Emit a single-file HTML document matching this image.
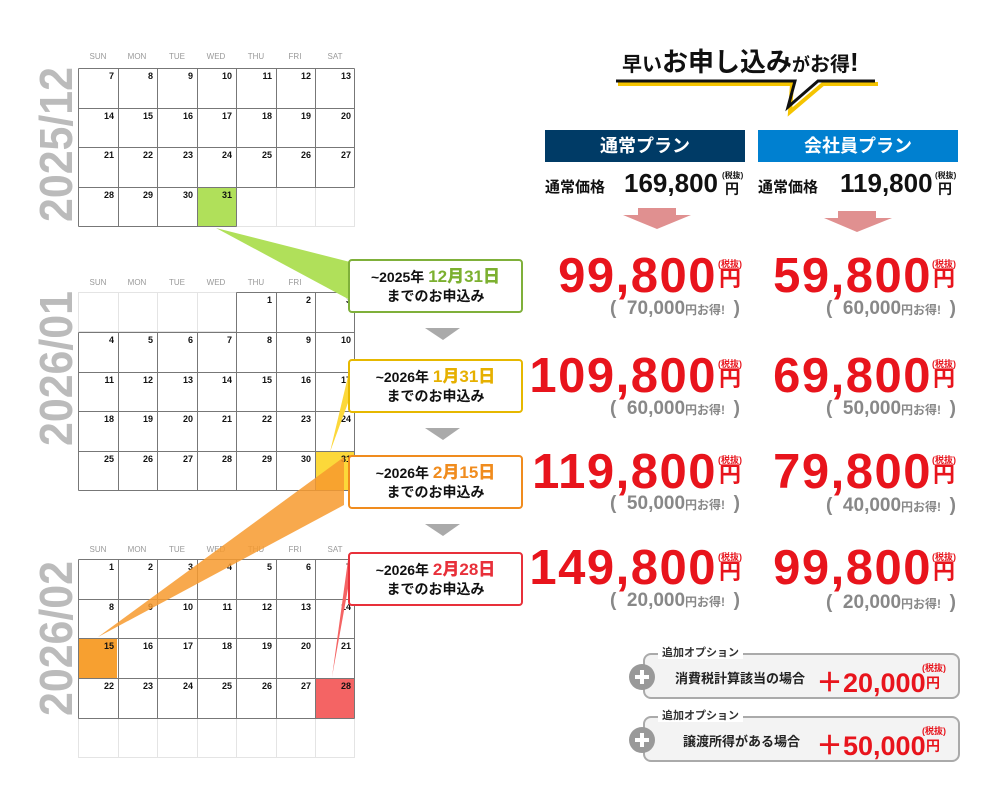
<!DOCTYPE html>
<html><head><meta charset="utf-8"><style>
*{margin:0;padding:0;box-sizing:border-box}
body{width:1000px;height:806px;background:#fff;position:relative;overflow:hidden;font-family:"Liberation Sans","Noto Sans CJK JP",sans-serif;font-weight:bold}
.a{position:absolute;white-space:nowrap}
.box{position:absolute;left:348px;width:175px;height:54px;border:2px solid;border-radius:4px;background:#fff;text-align:center;font-size:14px;line-height:19px;padding-top:6px;color:#111}
.box b{font-size:17px}
.big{position:absolute;color:#e8141c;font-size:49px;letter-spacing:1.5px;text-align:right;line-height:50px}
.yen{position:absolute;color:#e8141c;font-size:22px;line-height:22px}
.tx{position:absolute;color:#e8141c;font-size:9px}
.sv{position:absolute;color:#888;font-size:19px;text-align:right}
.sv small{font-size:12px}
.opt{position:absolute;left:643px;width:317px;height:46px;border:2px solid #aaa;border-radius:8px;background:#f3f3f3}
.ol{position:absolute;left:658px;background:#fff;font-size:11px;color:#333;padding:0 4px;line-height:12px}
</style></head><body>
<svg class="a" style="left:0;top:0" width="1000" height="806">
<g fill="#bbb" font-size="46" font-weight="bold" font-family="Liberation Sans Narrow,Liberation Sans,sans-serif">
<text transform="translate(72,222) rotate(-90)" textLength="155" lengthAdjust="spacingAndGlyphs">2025/12</text>
<text transform="translate(72,446) rotate(-90)" textLength="155" lengthAdjust="spacingAndGlyphs">2026/01</text>
<text transform="translate(72,716) rotate(-90)" textLength="155" lengthAdjust="spacingAndGlyphs">2026/02</text>
</g>
<g fill="#999" font-size="8" font-family="Liberation Sans,sans-serif" text-anchor="middle" font-weight="normal">
<text x="98" y="59">SUN</text><text x="137" y="59">MON</text><text x="177" y="59">TUE</text><text x="216" y="59">WED</text><text x="256" y="59">THU</text><text x="295" y="59">FRI</text><text x="335" y="59">SAT</text>
<text x="98" y="285">SUN</text><text x="137" y="285">MON</text><text x="177" y="285">TUE</text><text x="216" y="285">WED</text><text x="256" y="285">THU</text><text x="295" y="285">FRI</text><text x="335" y="285">SAT</text>
<text x="98" y="552">SUN</text><text x="137" y="552">MON</text><text x="177" y="552">TUE</text><text x="216" y="552">WED</text><text x="256" y="552">THU</text><text x="295" y="552">FRI</text><text x="335" y="552">SAT</text>
</g>
<rect x="197" y="187" width="39" height="40" fill="#b0e05a"/>
<rect x="315" y="451" width="40" height="39" fill="#fcd83a"/>
<rect x="78" y="638" width="39" height="40" fill="#f7a030"/>
<rect x="315" y="678" width="40" height="40" fill="#f46464"/>
<g stroke="#e4e4e4" fill="none" stroke-width="1">
<rect x="236.5" y="187.5" width="118" height="39"/><line x1="276.5" y1="187" x2="276.5" y2="227"/><line x1="315.5" y1="187" x2="315.5" y2="227"/>
<rect x="78.5" y="292.5" width="158" height="39"/><line x1="118.5" y1="292" x2="118.5" y2="332"/><line x1="157.5" y1="292" x2="157.5" y2="332"/><line x1="197.5" y1="292" x2="197.5" y2="332"/>
<rect x="78.5" y="718.5" width="276" height="39"/><line x1="118.5" y1="718" x2="118.5" y2="757"/><line x1="157.5" y1="718" x2="157.5" y2="757"/><line x1="197.5" y1="718" x2="197.5" y2="757"/><line x1="236.5" y1="718" x2="236.5" y2="757"/><line x1="276.5" y1="718" x2="276.5" y2="757"/><line x1="315.5" y1="718" x2="315.5" y2="757"/>
</g>
<g stroke="#777" fill="none" stroke-width="1">
<path d="M78.5 68.5H354.5M78.5 108.5H354.5M78.5 147.5H354.5M78.5 187.5H354.5M78.5 226.5H236.5M78.5 68.5V226.5M118.5 68.5V226.5M157.5 68.5V226.5M197.5 68.5V226.5M236.5 68.5V226.5M276.5 68.5V187.5M315.5 68.5V187.5M354.5 68.5V187.5"/>
<path d="M236.5 292.5H354.5M78.5 332.5H354.5M78.5 372.5H354.5M78.5 411.5H354.5M78.5 451.5H354.5M78.5 490.5H354.5M78.5 332.5V490.5M118.5 332.5V490.5M157.5 332.5V490.5M197.5 332.5V490.5M236.5 292.5V490.5M276.5 292.5V490.5M315.5 292.5V490.5M354.5 292.5V490.5"/>
<path d="M78.5 559.5H354.5M78.5 599.5H354.5M78.5 638.5H354.5M78.5 678.5H354.5M78.5 718.5H354.5M78.5 559.5V718.5M118.5 559.5V718.5M157.5 559.5V718.5M197.5 559.5V718.5M236.5 559.5V718.5M276.5 559.5V718.5M315.5 559.5V718.5M354.5 559.5V718.5"/>
</g>
<g font-size="9" font-weight="bold" fill="#111" text-anchor="end" font-family="Liberation Sans,sans-serif">
<text x="114" y="79">7</text><text x="153" y="79">8</text><text x="193" y="79">9</text><text x="232" y="79">10</text><text x="272" y="79">11</text><text x="311" y="79">12</text><text x="351" y="79">13</text>
<text x="114" y="119">14</text><text x="153" y="119">15</text><text x="193" y="119">16</text><text x="232" y="119">17</text><text x="272" y="119">18</text><text x="311" y="119">19</text><text x="351" y="119">20</text>
<text x="114" y="158">21</text><text x="153" y="158">22</text><text x="193" y="158">23</text><text x="232" y="158">24</text><text x="272" y="158">25</text><text x="311" y="158">26</text><text x="351" y="158">27</text>
<text x="114" y="198">28</text><text x="153" y="198">29</text><text x="193" y="198">30</text><text x="232" y="198">31</text>
<text x="272" y="303">1</text><text x="311" y="303">2</text><text x="351" y="303">3</text>
<text x="114" y="343">4</text><text x="153" y="343">5</text><text x="193" y="343">6</text><text x="232" y="343">7</text><text x="272" y="343">8</text><text x="311" y="343">9</text><text x="351" y="343">10</text>
<text x="114" y="383">11</text><text x="153" y="383">12</text><text x="193" y="383">13</text><text x="232" y="383">14</text><text x="272" y="383">15</text><text x="311" y="383">16</text><text x="351" y="383">17</text>
<text x="114" y="422">18</text><text x="153" y="422">19</text><text x="193" y="422">20</text><text x="232" y="422">21</text><text x="272" y="422">22</text><text x="311" y="422">23</text><text x="351" y="422">24</text>
<text x="114" y="462">25</text><text x="153" y="462">26</text><text x="193" y="462">27</text><text x="232" y="462">28</text><text x="272" y="462">29</text><text x="311" y="462">30</text><text x="351" y="462">31</text>
<text x="114" y="570">1</text><text x="153" y="570">2</text><text x="193" y="570">3</text><text x="232" y="570">4</text><text x="272" y="570">5</text><text x="311" y="570">6</text><text x="351" y="570">7</text>
<text x="114" y="610">8</text><text x="153" y="610">9</text><text x="193" y="610">10</text><text x="232" y="610">11</text><text x="272" y="610">12</text><text x="311" y="610">13</text><text x="351" y="610">14</text>
<text x="114" y="649">15</text><text x="153" y="649">16</text><text x="193" y="649">17</text><text x="232" y="649">18</text><text x="272" y="649">19</text><text x="311" y="649">20</text><text x="351" y="649">21</text>
<text x="114" y="689">22</text><text x="153" y="689">23</text><text x="193" y="689">24</text><text x="232" y="689">25</text><text x="272" y="689">26</text><text x="311" y="689">27</text><text x="351" y="689">28</text>
</g>
<polygon points="216,228 350,262 350,300" fill="#b0e05a"/>
<polygon points="350,368 352,392 330,452" fill="#fcd83a"/>
<polygon points="344,457 344,505 98,637" fill="#f79a2e" opacity="0.85"/>
<polygon points="348,560 351,572 332,677" fill="#f46464"/>
<polygon points="425,328 460,328 443,340" fill="#aaa"/>
<polygon points="425,428 460,428 443,440" fill="#aaa"/>
<polygon points="425,524 460,524 443,536" fill="#aaa"/>
<path d="M618 84 L792 84 L790 112 L823 84 L878 84" stroke="#f5c400" stroke-width="4" fill="none"/>
<path d="M616 81 L795 81 L788 107 L818 81 L875 81" stroke="#111" stroke-width="3" fill="none"/>
<polygon points="638,208 676,208 676,215 691,215 657,229 623,215 638,215" fill="#e09090"/>
<polygon points="838,211 876,211 876,218 892,218 857,232 824,218 838,218" fill="#e09090"/>
</svg>

<div class="box" style="top:259px;border-color:#7fb03a">~2025年 <b style="color:#7cb030">12月31日</b><br>までのお申込み</div>
<div class="box" style="top:359px;border-color:#e6b800">~2026年 <b style="color:#e6b000">1月31日</b><br>までのお申込み</div>
<div class="box" style="top:455px;border-color:#f08c1e">~2026年 <b style="color:#f08c1e">2月15日</b><br>までのお申込み</div>
<div class="box" style="top:552px;border-color:#e8303a">~2026年 <b style="color:#e8303a">2月28日</b><br>までのお申込み</div>

<div class="a" style="left:622px;top:42px;font-size:26px;color:#111"><span style="font-size:20px">早い</span>お申し込み<span style="font-size:18px">が</span><span style="font-size:20px">お得</span>!</div>

<div class="a" style="left:545px;top:130px;width:200px;height:32px;background:#003b66;color:#fff;font-size:18px;text-align:center;line-height:32px">通常プラン</div>
<div class="a" style="left:758px;top:130px;width:200px;height:32px;background:#0080d0;color:#fff;font-size:18px;text-align:center;line-height:32px">会社員プラン</div>

<div class="a" style="left:545px;top:176px;font-size:15px;color:#111">通常価格</div>
<div class="a" style="left:624px;top:168px;font-size:26px;color:#111">169,800</div>
<div class="a" style="left:722px;top:170px;font-size:8px;color:#111">(税抜)</div>
<div class="a" style="left:725px;top:179px;font-size:14px;color:#111">円</div>
<div class="a" style="left:758px;top:176px;font-size:15px;color:#111">通常価格</div>
<div class="a" style="left:840px;top:168px;font-size:26px;color:#111">119,800</div>
<div class="a" style="left:935px;top:170px;font-size:8px;color:#111">(税抜)</div>
<div class="a" style="left:938px;top:179px;font-size:14px;color:#111">円</div>

<div class="big" style="right:283px;top:251px">99,800</div>
<div class="big" style="right:283px;top:351px">109,800</div>
<div class="big" style="right:283px;top:447px">119,800</div>
<div class="big" style="right:283px;top:543px">149,800</div>
<div class="big" style="right:68px;top:251px">59,800</div>
<div class="big" style="right:68px;top:351px">69,800</div>
<div class="big" style="right:68px;top:447px">79,800</div>
<div class="big" style="right:68px;top:543px">99,800</div>

<div class="tx" style="left:718px;top:257px">(税抜)</div><div class="yen" style="left:719px;top:268px">円</div>
<div class="tx" style="left:718px;top:357px">(税抜)</div><div class="yen" style="left:719px;top:368px">円</div>
<div class="tx" style="left:718px;top:453px">(税抜)</div><div class="yen" style="left:719px;top:464px">円</div>
<div class="tx" style="left:718px;top:550px">(税抜)</div><div class="yen" style="left:719px;top:561px">円</div>
<div class="tx" style="left:932px;top:257px">(税抜)</div><div class="yen" style="left:933px;top:268px">円</div>
<div class="tx" style="left:932px;top:357px">(税抜)</div><div class="yen" style="left:933px;top:368px">円</div>
<div class="tx" style="left:932px;top:453px">(税抜)</div><div class="yen" style="left:933px;top:464px">円</div>
<div class="tx" style="left:932px;top:550px">(税抜)</div><div class="yen" style="left:933px;top:561px">円</div>

<div class="sv" style="right:260px;top:298px">(&nbsp; 70,000<small>円お得! </small>&nbsp;)</div>
<div class="sv" style="right:260px;top:398px">(&nbsp; 60,000<small>円お得! </small>&nbsp;)</div>
<div class="sv" style="right:260px;top:493px">(&nbsp; 50,000<small>円お得! </small>&nbsp;)</div>
<div class="sv" style="right:260px;top:590px">(&nbsp; 20,000<small>円お得! </small>&nbsp;)</div>
<div class="sv" style="right:44px;top:298px">(&nbsp; 60,000<small>円お得! </small>&nbsp;)</div>
<div class="sv" style="right:44px;top:398px">(&nbsp; 50,000<small>円お得! </small>&nbsp;)</div>
<div class="sv" style="right:44px;top:495px">(&nbsp; 40,000<small>円お得! </small>&nbsp;)</div>
<div class="sv" style="right:44px;top:592px">(&nbsp; 20,000<small>円お得! </small>&nbsp;)</div>

<div class="opt" style="top:653px"></div>
<div class="opt" style="top:716px"></div>
<svg class="a" style="left:0;top:0" width="1000" height="806"><circle cx="642" cy="677" r="13" fill="#999"/><path d="M642 670V684M635 677H649" stroke="#fff" stroke-width="4"/><circle cx="642" cy="740" r="13" fill="#999"/><path d="M642 733V747M635 740H649" stroke="#fff" stroke-width="4"/></svg>
<div class="ol" style="top:647px">追加オプション</div>
<div class="ol" style="top:710px">追加オプション</div>
<div class="a" style="left:675px;top:668px;font-size:13px;color:#222">消費税計算該当の場合</div>
<div class="a" style="left:683px;top:731px;font-size:13px;color:#222">譲渡所得がある場合</div>
<div class="a" style="left:816px;top:661px;font-size:27px;color:#e8141c">＋20,000</div>
<div class="a" style="left:816px;top:724px;font-size:27px;color:#e8141c">＋50,000</div>
<div class="tx" style="left:922px;top:661px">(税抜)</div><div class="a" style="left:926px;top:673px;font-size:14px;color:#e8141c">円</div>
<div class="tx" style="left:922px;top:724px">(税抜)</div><div class="a" style="left:926px;top:736px;font-size:14px;color:#e8141c">円</div>
</body></html>
